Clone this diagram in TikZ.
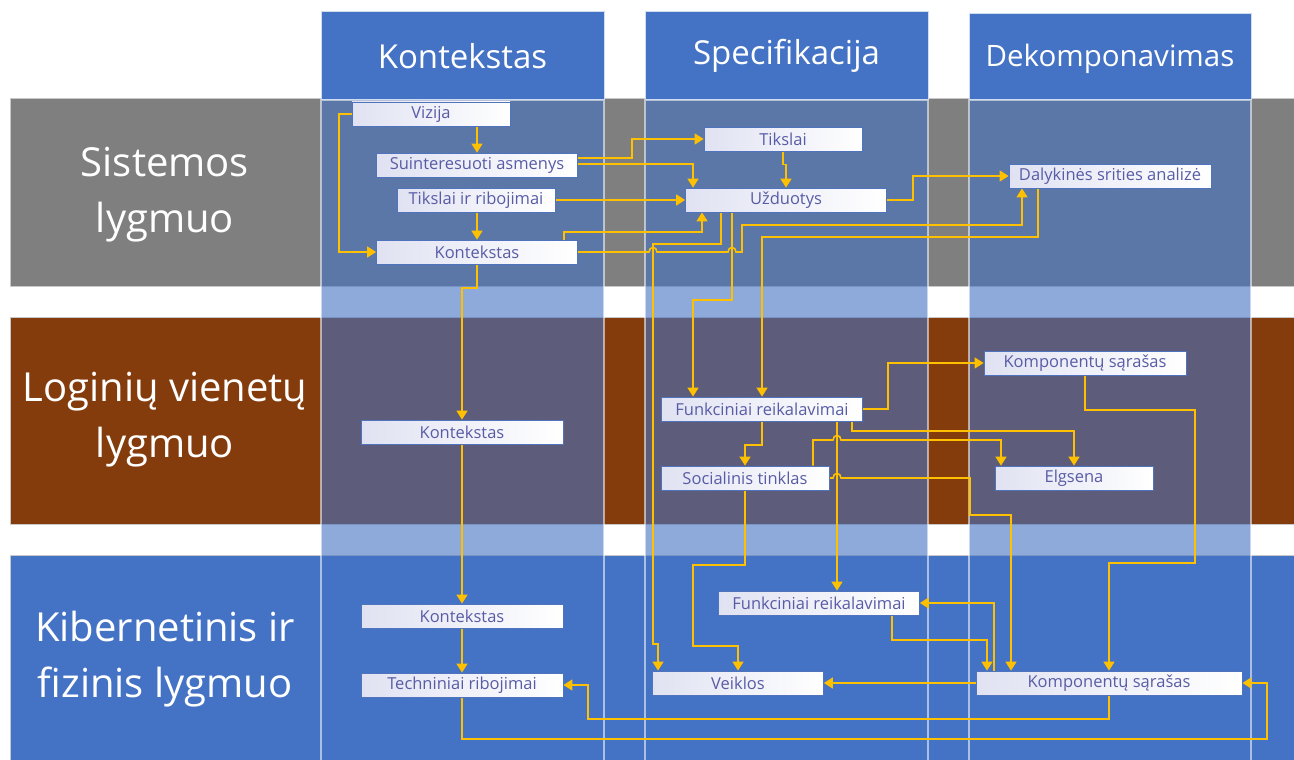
\documentclass[tikz,border=0pt]{standalone}
\usepackage{fontspec}
\setmainfont{Open Sans}
\usetikzlibrary{arrows.meta}
\definecolor{rowgray}{HTML}{7F7F7F}
\definecolor{rowbrown}{HTML}{843C0C}
\definecolor{rowblue}{HTML}{4472C4}
\definecolor{colblue}{HTML}{4472C4}
\definecolor{gold}{HTML}{FFC000}
\definecolor{boxtext}{RGB}{88,92,165}
\definecolor{boxedge}{RGB}{80,115,190}
\definecolor{boxleft}{RGB}{224,226,242}
\definecolor{rimgray}{RGB}{200,200,200}

\pgfdeclarelayer{bands}
\pgfdeclarelayer{links}
\pgfsetlayers{bands,links,main}

\begin{document}
\begin{tikzpicture}[x=1pt,y=-1pt,
  band/.style={draw=rimgray, line width=1pt},
  lane/.style={fill=colblue, fill opacity=0.6, draw=white, draw opacity=0.55, line width=1.2pt},
  headbox/.style={fill=colblue, draw=white!75!colblue, line width=1pt},
  headtext/.style={text=white, font=\fontsize{33}{40}\selectfont},
  levellabel/.style={text=white, align=center, font=\fontsize{40}{56}\selectfont},
  item/.style={rectangle, draw=boxedge, line width=0.8pt, left color=boxleft, right color=white,
     minimum height=24pt, inner sep=0pt, text=boxtext, font=\fontsize{16.5}{18}\selectfont},
  link/.style={draw=gold, line width=1.6pt, -{Triangle[width=11pt,length=9pt]}},
]
\useasboundingbox (0,0) rectangle (1294,760);

% levels, lanes and lane headers
\begin{pgfonlayer}{bands}
  \fill[white] (0,0) rectangle (1294,760);
  \path[band, fill=rowgray]  (10,99)  rectangle (1300,286);
  \path[band, fill=rowbrown] (10,317) rectangle (1300,524);
  \path[band, fill=rowblue]  (10,555) rectangle (1300,775);
  \path[lane] (321,100) rectangle (604,775);
  \path[lane] (645,100) rectangle (928,775);
  \path[lane] (969,100) rectangle (1251,775);
  \path[headbox] (321,12) rectangle (604,100);
  \path[headbox] (645,12) rectangle (928,100);
  \path[headbox] (969,14) rectangle (1251,100);
  \node[headtext] (h1) at (462.5,56) {Kontekstas};
  \node[headtext] (h2) at (786.5,56) {Specifikacija};
  \node[headtext, font=\fontsize{29.5}{36}\selectfont] (h3) at (1110,59) {Dekomponavimas};
  \node[levellabel] (l1) at (165,195) {Sistemos\\lygmuo};
  \node[levellabel] (l2) at (165,420) {Loginių vienetų\\lygmuo};
  \node[levellabel] (l3) at (165,659) {Kibernetinis ir\\fizinis lygmuo};
\end{pgfonlayer}

% system level
\node[item, minimum width=158pt] (viz)  at (431,114)  {Vizija};
\node[item, minimum width=201pt] (sui)  at (477,165)  {Suinteresuoti asmenys};
\node[item, minimum width=158pt] (tir)  at (476,200)  {Tikslai ir ribojimai};
\node[item, minimum width=201pt] (kon1) at (477,252)  {Kontekstas};
\node[item, minimum width=158pt] (tik)  at (783,139)  {Tikslai};
\node[item, minimum width=201pt] (uzd)  at (786,200)  {Užduotys};
\node[item, minimum width=202pt] (dal)  at (1110,176) {Dalykinės srities analizė};

% logical units level
\node[item, minimum width=202pt] (kon2) at (462,432)  {Kontekstas};
\node[item, minimum width=201pt] (fr2)  at (762,409)  {Funkciniai reikalavimai};
\node[item, minimum width=168pt] (soc)  at (745,478)  {Socialinis tinklas};
\node[item, minimum width=202pt] (kom2) at (1085,363) {Komponentų sąrašas};
\node[item, minimum width=158pt] (elg)  at (1074,478) {Elgsena};

% cyber-physical level
\node[item, minimum width=202pt] (kon3) at (462,616)  {Kontekstas};
\node[item, minimum width=202pt] (tech) at (462,685)  {Techniniai ribojimai};
\node[item, minimum width=201pt] (fr3)  at (819,603)  {Funkciniai reikalavimai};
\node[item, minimum width=171pt] (vei)  at (738,683)  {Veiklos};
\node[item, minimum width=266pt] (kom3) at (1109,683) {Komponentų sąrašas};

\begin{pgfonlayer}{links}
  % system level
  \draw[link] (viz.south -| 477,0) -- (sui.north -| 477,0);
  \draw[link] (viz.west) -- (339,114) |- (kon1.west);
  \draw[link] (tir.south -| 477,0) -- (kon1.north -| 477,0);
  \draw[link] (sui.east |- 0,158) -- (632,158) |- (tik.west);
  \draw[link] (sui.east |- 0,164) -| (uzd.north -| 693,0);
  \draw[link] (tir.east) -- (uzd.west);
  \draw[link] (kon1.north -| 564,0) -- (564,232) -| (uzd.south -| 702,0);
  \draw[link] (kon1.east) -- (649,252)
     .. controls (649,246) and (657,246) .. (657,252) -- (728,252)
     .. controls (728,246) and (736,246) .. (736,252) -- (742,252)
     -- (742,225) -| (dal.south -| 1022,0);
  \draw[link] (uzd.east) -- (913,200) |- (dal.west);
  \draw[link] (tik.south) -- ++(0,13) -| (uzd.north);
  \draw[link] (uzd.south -| 721,0) -- (721,244) -- (653,244) -- (653,644) -| (vei.north -| 658,0);
  \draw[link] (uzd.south -| 732,0) -- (732,300) -| (fr2.north -| 693,0);
  \draw[link] (dal.south -| 1038,0) -- (1038,237) -| (fr2.north);
  \draw[link] (kon1.south) -- (477,288) -| (kon2.north);
  % logical units level
  \draw[link] (kon2.south) -- (kon3.north);
  \draw[link] (fr2.east) -- (888,409) |- (kom2.west);
  \draw[link] (fr2.south -| 852,0) -- (852,431) -| (elg.north);
  \draw[link] (fr2.south) -- (762,445) -| (soc.north);
  \draw[link] (fr2.south -| 837,0) -- (fr3.north -| 837,0);
  \draw[link] (soc.north -| 813,0) -- (813,440) -- (833,440)
     .. controls (833,434) and (841,434) .. (841,440) -- (1001,440) -- (elg.north -| 1001,0);
  \draw[link] (soc.east) -- (833,478)
     .. controls (833,472) and (841,472) .. (841,478) -- (970,478) -- (970,515)
     -| (kom3.north -| 1011,0);
  \draw[link] (soc.south) -- (745,565) -- (693,565) -- (693,646) -| (vei.north);
  \draw[link] (kom2.south) -- (1085,410) -- (1195,410) -- (1195,563) -| (kom3.north);
  % cyber-physical level
  \draw[link] (kon3.south) -- (tech.north);
  \draw[link] (kom3.north -| 994,0) |- (fr3.east);
  \draw[link] (fr3.south -| 892,0) -- (892,640) -| (kom3.north -| 987,0);
  \draw[link] (kom3.west) -- (vei.east);
  \draw[link] (kom3.south) -- (1109,719) -- (588,719) |- (tech.east);
  \draw[link] (tech.south) -- (462,739) -- (1267,739) |- (kom3.east);
\end{pgfonlayer}
\end{tikzpicture}
\end{document}
